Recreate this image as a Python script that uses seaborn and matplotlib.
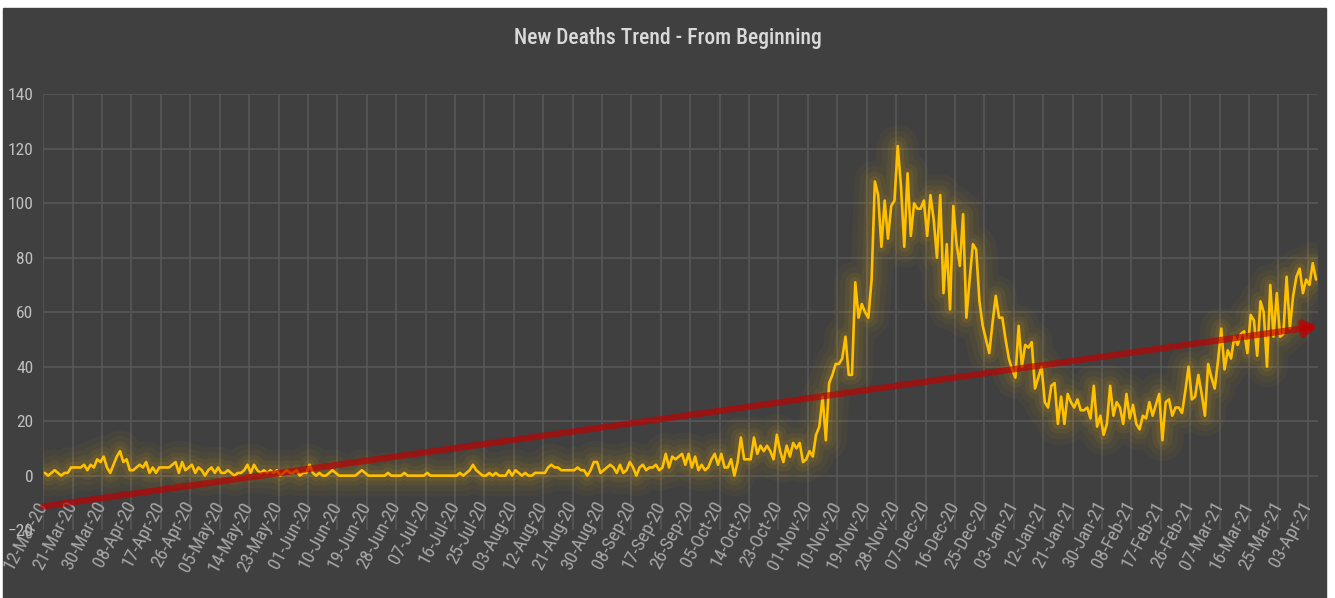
import numpy as np
import pandas as pd
import matplotlib
matplotlib.use("Agg")
import matplotlib.pyplot as plt
import seaborn as sns

# daily new deaths
mar_20 = [1, 0, 1, 2, 1, 0, 1, 1, 3, 3, 3, 3, 4, 2, 4, 3, 6, 5, 7, 3]
apr_20 = [1, 4, 7, 9, 5, 6, 2, 2, 3, 4, 3, 5, 1, 3, 1, 3, 3, 3, 3, 4,
          5, 1, 5, 2, 3, 4, 1, 3, 2, 0]
may_20 = [2, 3, 1, 3, 1, 1, 2, 1, 0, 1, 1, 2, 4, 1, 4, 2, 1, 2, 1, 2,
          1, 2, 0, 1, 2, 1, 1, 2, 0, 1, 1]
jun_20 = [4, 1, 0, 1, 0, 0, 1, 2, 1, 0, 0, 0, 0, 0, 0, 1, 2, 1, 0, 0,
          0, 0, 0, 0, 1, 0, 0, 0, 0, 1]
jul_20 = [0, 0, 0, 0, 0, 0, 1, 0, 0, 0, 0, 0, 0, 0, 0, 0, 1, 0, 1, 2,
          4, 2, 1, 0, 0, 1, 0, 1, 0, 0, 0]
aug_20 = [2, 0, 2, 1, 0, 1, 0, 0, 1, 1, 1, 1, 3, 4, 3, 3, 2, 2, 2, 2,
          2, 3, 2, 2, 0, 2, 5, 5, 1, 2, 3]
sep_20 = [4, 3, 1, 4, 1, 2, 5, 3, 0, 3, 4, 2, 3, 3, 4, 2, 3, 8, 3, 7,
          6, 7, 8, 4, 8, 3, 7, 2, 4, 2]
oct_20 = [3, 6, 8, 4, 8, 3, 3, 6, 0, 5, 14, 6, 6, 6, 14, 8, 11, 9, 11, 9,
          6, 15, 9, 5, 11, 7, 12, 10, 12, 5, 6]
nov_20 = [9, 7, 15, 18, 29, 13, 34, 37, 41, 41, 43, 51, 37, 37, 71, 58, 63, 60, 58, 72,
          108, 103, 84, 101, 87, 99, 101, 121, 106, 84]
dec_20 = [111, 88, 100, 98, 98, 101, 88, 103, 94, 80, 103, 67, 85, 61, 99, 85, 77, 96, 58, 72,
          85, 83, 64, 55, 50, 45, 56, 66, 58, 58, 50]
jan_21 = [43, 39, 36, 55, 40, 48, 47, 49, 32, 36, 40, 27, 25, 33, 34, 19, 29, 19, 30, 27,
          25, 28, 24, 24, 25, 21, 33, 18, 22, 15, 19]
feb_21 = [33, 22, 27, 25, 19, 30, 21, 26, 19, 17, 22, 21, 27, 22, 26, 30, 13, 27, 28, 22,
          25, 25, 23, 31, 40, 28, 29, 37]
mar_21 = [30, 22, 41, 36, 32, 42, 54, 39, 46, 43, 51, 48, 52, 53, 45, 59, 57, 44, 64, 60,
          40, 70, 51, 67, 51, 52, 73, 54, 66, 73, 76]
apr_21 = [67, 72, 70, 78, 72]

deaths = (mar_20 + apr_20 + may_20 + jun_20 + jul_20 + aug_20 + sep_20 + oct_20
          + nov_20 + dec_20 + jan_21 + feb_21 + mar_21 + apr_21)
dates = pd.date_range("2020-03-12", periods=len(deaths), freq="D")
day = np.arange(len(deaths))
df = pd.DataFrame({"day": day, "deaths": deaths})

bg = "#404040"
sns.set_style("dark")
plt.rcParams["font.family"] = ["Liberation Sans Narrow", "Roboto Condensed",
                               "DejaVu Sans Condensed", "Roboto", "DejaVu Sans"]

fig = plt.figure(figsize=(13.35, 5.98), dpi=100, facecolor="white")
fig.patches.append(plt.Rectangle((3 / 1335, 0), 1323 / 1335, 590 / 598,
                                 transform=fig.transFigure, color=bg, zorder=-5))
ax = fig.add_axes([0.0324, 0.1135, 0.9546, 0.7288])
ax.set_facecolor(bg)

# soft glow under the yellow line
for lw, a in [(30, 0.035), (22, 0.045), (14, 0.06), (8, 0.08)]:
    sns.lineplot(data=df, x="day", y="deaths", color="#FFC000", linewidth=lw, alpha=a,
                 ax=ax, solid_joinstyle="round", solid_capstyle="round")
sns.lineplot(data=df, x="day", y="deaths", color="#FFC000", linewidth=1.9, ax=ax)

# linear trend with arrow
coef = np.polyfit(day, deaths, 1)
x0, x1 = -0.5, len(deaths) - 0.5
ax.annotate("", xy=(x1, np.polyval(coef, x1)), xytext=(x0, np.polyval(coef, x0)),
            arrowprops=dict(arrowstyle="-|>,head_length=0.7,head_width=0.45",
                            color="#C00000", alpha=0.68, lw=4.6, shrinkA=0, shrinkB=0))

ax.set_xlim(x0, x1)
ax.set_ylim(-20, 140)
ax.set_yticks(range(-20, 141, 20))
ax.set_xticks(day[::9] - 0.5)
ax.set_xticklabels(dates[::9].strftime("%d-%b-%y"), rotation=62, ha="right",
                   va="center", rotation_mode="anchor")
ax.tick_params(axis="x", colors="#a6a6a6", labelsize=13.5, length=0, pad=-20)
ax.tick_params(axis="y", colors="#bfbfbf", labelsize=12.5, length=0, pad=7)
ax.grid(True, color="#595959", linewidth=1.1)
ax.get_ygridlines()[0].set_visible(False)
for s in ax.spines.values():
    s.set_visible(False)
ax.set_xlabel("")
ax.set_ylabel("")

fig.text(0.5, 1 - 38 / 598, "New Deaths Trend - From Beginning", ha="center", va="center",
         color="#d9d9d9", fontsize=15.5, fontweight="medium")

fig.savefig("out.png", dpi=100, facecolor=fig.get_facecolor())
